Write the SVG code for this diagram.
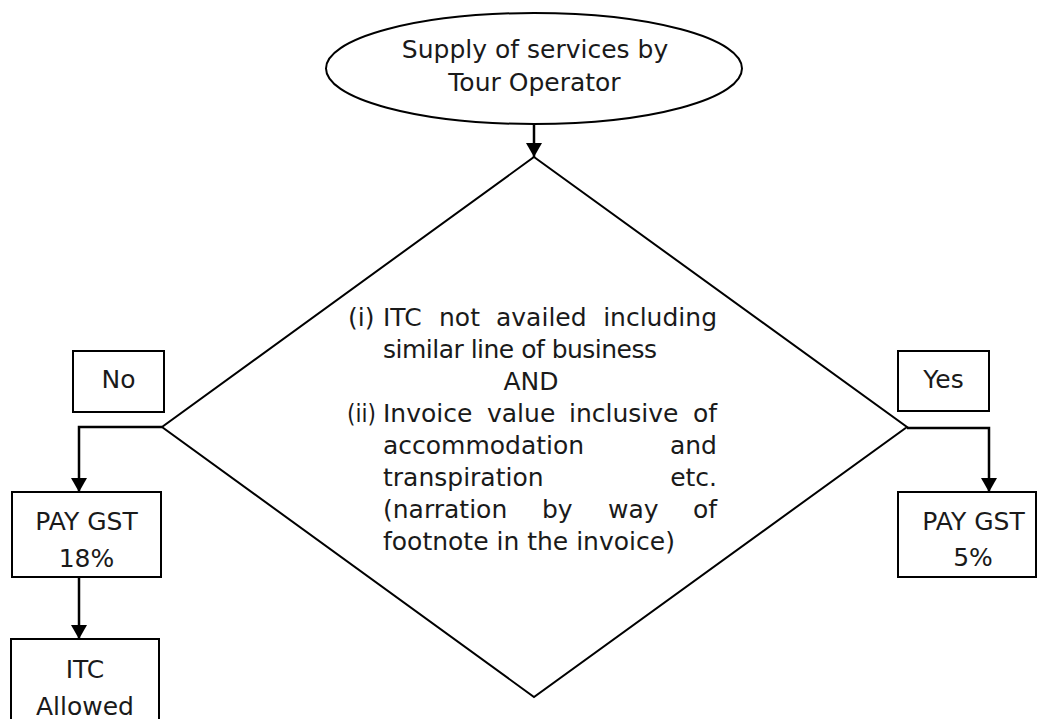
<svg xmlns="http://www.w3.org/2000/svg" width="1038" height="719" viewBox="0 0 1038 719">
<defs>
<style>
.shape{fill:#ffffff;stroke:#000000;stroke-width:2}
.conn{fill:none;stroke:#000000;stroke-width:2.5}
.t{font-family:"DejaVu Sans","Liberation Sans",sans-serif;font-size:25px;fill:#1a1a1a}
.c{text-anchor:middle}
.e{text-anchor:end}
</style>
<marker id="arrow" viewBox="0 0 14 16" refX="14" refY="8" markerWidth="14" markerHeight="16" orient="auto" markerUnits="userSpaceOnUse">
<path d="M0,0 L14,8 L0,16 z" fill="#000000"/>
</marker>
</defs>
<rect width="1038" height="719" fill="#ffffff"/>
<g id="connectors">
<line class="conn" x1="534" y1="124" x2="534" y2="157" marker-end="url(#arrow)"/>
<polyline class="conn" points="162,427 79,427 79,492" marker-end="url(#arrow)"/>
<line class="conn" x1="79" y1="577" x2="79" y2="639" marker-end="url(#arrow)"/>
<polyline class="conn" points="907,428 989,428 989,492" marker-end="url(#arrow)"/>
</g>
<g id="start">
<ellipse class="shape" cx="534" cy="68.5" rx="208" ry="55.5"/>
<text class="t c" x="535" y="58">Supply of services by</text>
<text class="t c" x="534.5" y="91">Tour Operator</text>
</g>
<g id="decision">
<polygon class="shape" points="534,157 907,427 534,697 162,427"/>
<text class="t" x="348" y="326">(i)</text>
<text class="t" x="383" y="326">ITC</text>
<text class="t" x="439" y="326">not</text>
<text class="t" x="496" y="326">availed</text>
<text class="t e" x="717" y="326">including</text>
<text class="t" x="383" y="358" textLength="274" lengthAdjust="spacing">similar line of business</text>
<text class="t c" x="531" y="390">AND</text>
<text class="t" x="347" y="422" textLength="29" lengthAdjust="spacingAndGlyphs">(ii)</text>
<text class="t" x="383" y="422">Invoice</text>
<text class="t" x="487" y="422">value</text>
<text class="t" x="569" y="422">inclusive</text>
<text class="t e" x="717" y="422">of</text>
<text class="t" x="383" y="454">accommodation</text>
<text class="t e" x="717" y="454">and</text>
<text class="t" x="383" y="486">transpiration</text>
<text class="t e" x="717" y="486">etc.</text>
<text class="t" x="383" y="518">(narration</text>
<text class="t" x="542" y="518">by</text>
<text class="t" x="608" y="518">way</text>
<text class="t e" x="717" y="518">of</text>
<text class="t" x="383" y="550">footnote in the invoice)</text>
</g>
<g id="label-no">
<rect class="shape" x="73" y="351" width="91" height="61"/>
<text class="t c" x="118.5" y="388">No</text>
</g>
<g id="label-yes">
<rect class="shape" x="898" y="351" width="91" height="60"/>
<text class="t c" x="943.5" y="388">Yes</text>
</g>
<g id="pay-18">
<rect class="shape" x="12" y="492" width="149" height="85"/>
<text class="t c" x="86.5" y="530">PAY GST</text>
<text class="t c" x="86.5" y="567">18%</text>
</g>
<g id="itc-allowed">
<rect class="shape" x="11" y="639" width="148" height="90"/>
<text class="t c" x="85" y="678">ITC</text>
<text class="t c" x="85" y="715">Allowed</text>
</g>
<g id="pay-5">
<rect class="shape" x="898" y="492" width="138" height="85"/>
<text class="t c" x="973.5" y="530">PAY GST</text>
<text class="t c" x="973" y="566">5%</text>
</g>
</svg>
